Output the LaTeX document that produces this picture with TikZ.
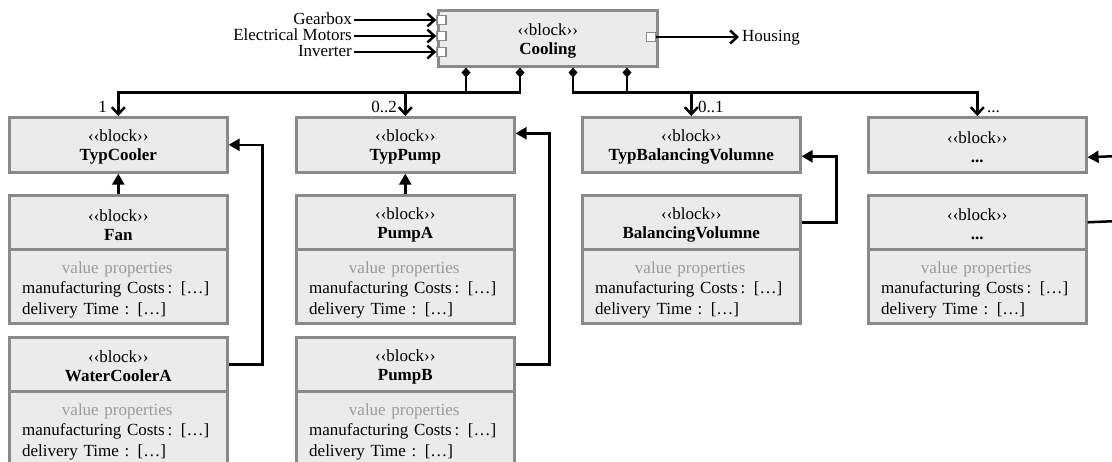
\documentclass[tikz,border=0pt]{standalone}
\usepackage{fontspec}
\setmainfont{Liberation Serif}
\usetikzlibrary{arrows.meta,calc}
\definecolor{blkfill}{HTML}{EBEBEB}
\definecolor{blkdraw}{HTML}{8A8A8A}
\definecolor{vpgray}{HTML}{9A9A9A}
\newcommand{\blocktitle}[1]{\rule{0pt}{16.6pt}‹‹block››\\\textbf{#1}}
\newcommand{\vpcontent}{\makebox[190pt]{\color{vpgray}value properties}\\manufacturing Costs\,: […]\\delivery Time : […]}
\begin{document}
\begin{tikzpicture}[x=1pt,y=-1pt,
  font=\fontsize{17}{19}\selectfont,
  blk/.style={draw=blkdraw, fill=blkfill, line width=2.6pt, minimum width=218pt, minimum height=55pt, inner sep=0pt, align=center, anchor=north west},
  hdr/.style={blk, minimum height=54pt},
  cmp/.style={draw=blkdraw, fill=blkfill, line width=2.6pt, minimum width=218pt, minimum height=74pt, inner sep=0pt, anchor=north west},
  cmptext/.style={text width=190pt, align=left, inner sep=0pt, anchor=north west, font=\fontsize{17}{20.3}\selectfont},
  port/.style={draw=blkdraw, fill=white, line width=1.6pt, minimum size=9pt, inner sep=0pt},
  lbl/.style={inner sep=2pt, text height=12pt, text depth=4pt},
  mult/.style={inner sep=0pt},
  conn/.style={line width=2.5pt, -{Straight Barb[length=7pt,width=13pt]}},
  compo/.style={line width=2.5pt, {Diamond[length=10pt,width=9pt]}-{Straight Barb[length=7pt,width=13pt]}},
  gen/.style={line width=2.5pt, -{Triangle[length=11pt,width=12pt]}},
  plain/.style={line width=2.5pt}
]
\useasboundingbox (0,0) rectangle (1112,461);
\clip (0,0) rectangle (1112,461);

% Cooling block and ports
\node[blk, minimum width=219pt, minimum height=56pt] (cool) at (437,9) {\blocktitle{Cooling}};
\node[port] (p1) at (441.5,20) {};
\node[port] (p2) at (441.5,36) {};
\node[port] (p3) at (441.5,52) {};
\node[port] (p4) at (651,37) {};
\node[lbl, anchor=east] (lg) at (354,20) {Gearbox};
\node[lbl, anchor=east] (le) at (354,36) {Electrical Motors};
\node[lbl, anchor=east] (li) at (354,52) {Inverter};
\node[lbl, anchor=west, inner sep=3pt] (lh) at (739,37) {Housing};
\draw[conn] (lg.east) -- (p1.west);
\draw[conn] (le.east) -- (p2.west);
\draw[conn] (li.east) -- (p3.west);
\draw[conn] (p4.east) -- (lh.west);

% Row 1: types
\node[blk] (tc) at (8,116) {\blocktitle{TypCooler}};
\node[blk] (tp) at (295,116) {\blocktitle{TypPump}};
\node[blk] (tbv) at (581,116) {\blocktitle{TypBalancingVolumne}};
\node[blk] (td) at (867,116) {\blocktitle{...}};

% Row 2
\node[hdr] (fan) at (8,194) {\blocktitle{Fan}};
\node[cmp] (fanp) at (8,248) {};
\node[cmptext] (fant) at ([xshift=14pt,yshift=-13.5pt]fanp.north west) {\vpcontent};

\node[hdr] (pa) at (295,194) {\blocktitle{PumpA}};
\node[cmp] (pap) at (295,248) {};
\node[cmptext] (pat) at ([xshift=14pt,yshift=-13.5pt]pap.north west) {\vpcontent};

\node[hdr] (bv) at (581,194) {\blocktitle{BalancingVolumne}};
\node[cmp] (bvp) at (581,248) {};
\node[cmptext] (bvt) at ([xshift=14pt,yshift=-13.5pt]bvp.north west) {\vpcontent};

\node[hdr] (d2) at (867,194) {\blocktitle{...}};
\node[cmp] (d2p) at (867,248) {};
\node[cmptext] (d2t) at ([xshift=14pt,yshift=-13.5pt]d2p.north west) {\vpcontent};

% Row 3
\node[hdr] (wca) at (8,336) {\blocktitle{WaterCoolerA}};
\node[cmp] (wcap) at (8,390) {};
\node[cmptext] (wcat) at ([xshift=14pt,yshift=-13.5pt]wcap.north west) {\vpcontent};

\node[hdr] (pb) at (295,336) {\blocktitle{PumpB}};
\node[cmp] (pbp) at (295,390) {};
\node[cmptext] (pbt) at ([xshift=14pt,yshift=-13.5pt]pbp.north west) {\vpcontent};

% Composition connectors
\draw[compo] ([xshift=29pt]cool.south west) -- ++(0,25) -| (tc.north);
\draw[compo] ([xshift=83pt]cool.south west) -- ++(0,25) -| (tp.north);
\draw[compo] ([xshift=136pt]cool.south west) -- ++(0,25) -| (td.north);
\draw[compo] ([xshift=190pt]cool.south west) -- ++(0,25) -| (tbv.north);

% Multiplicities
\node[mult, anchor=base east] (m1) at (107,112) {1};
\node[mult, anchor=base east] (m2) at (397,112) {0..2};
\node[mult, anchor=base west] (m3) at (698,112) {0..1};
\node[mult, anchor=base west] (m4) at (987,112) {...};

% Generalizations
\draw[gen] (fan.north) -- (tc.south);
\draw[gen] (wca.east) -- ++(34,0) |- (tc.east);
\draw[gen] (pa.north) -- (tp.south);
\draw[gen] (pb.east) -- ++(34,0) |- ([yshift=11.5pt]tp.east);
\draw[gen] (bv.east) -- ++(35,0) |- ([yshift=-11.5pt]tbv.east);
\coordinate (offA) at (1118,156);
\coordinate (offB) at (1118,221);
\draw[gen] (offA) -- ([yshift=-12.5pt]td.east);
\draw[plain] (d2.east) -- (offB);
\end{tikzpicture}
\end{document}
